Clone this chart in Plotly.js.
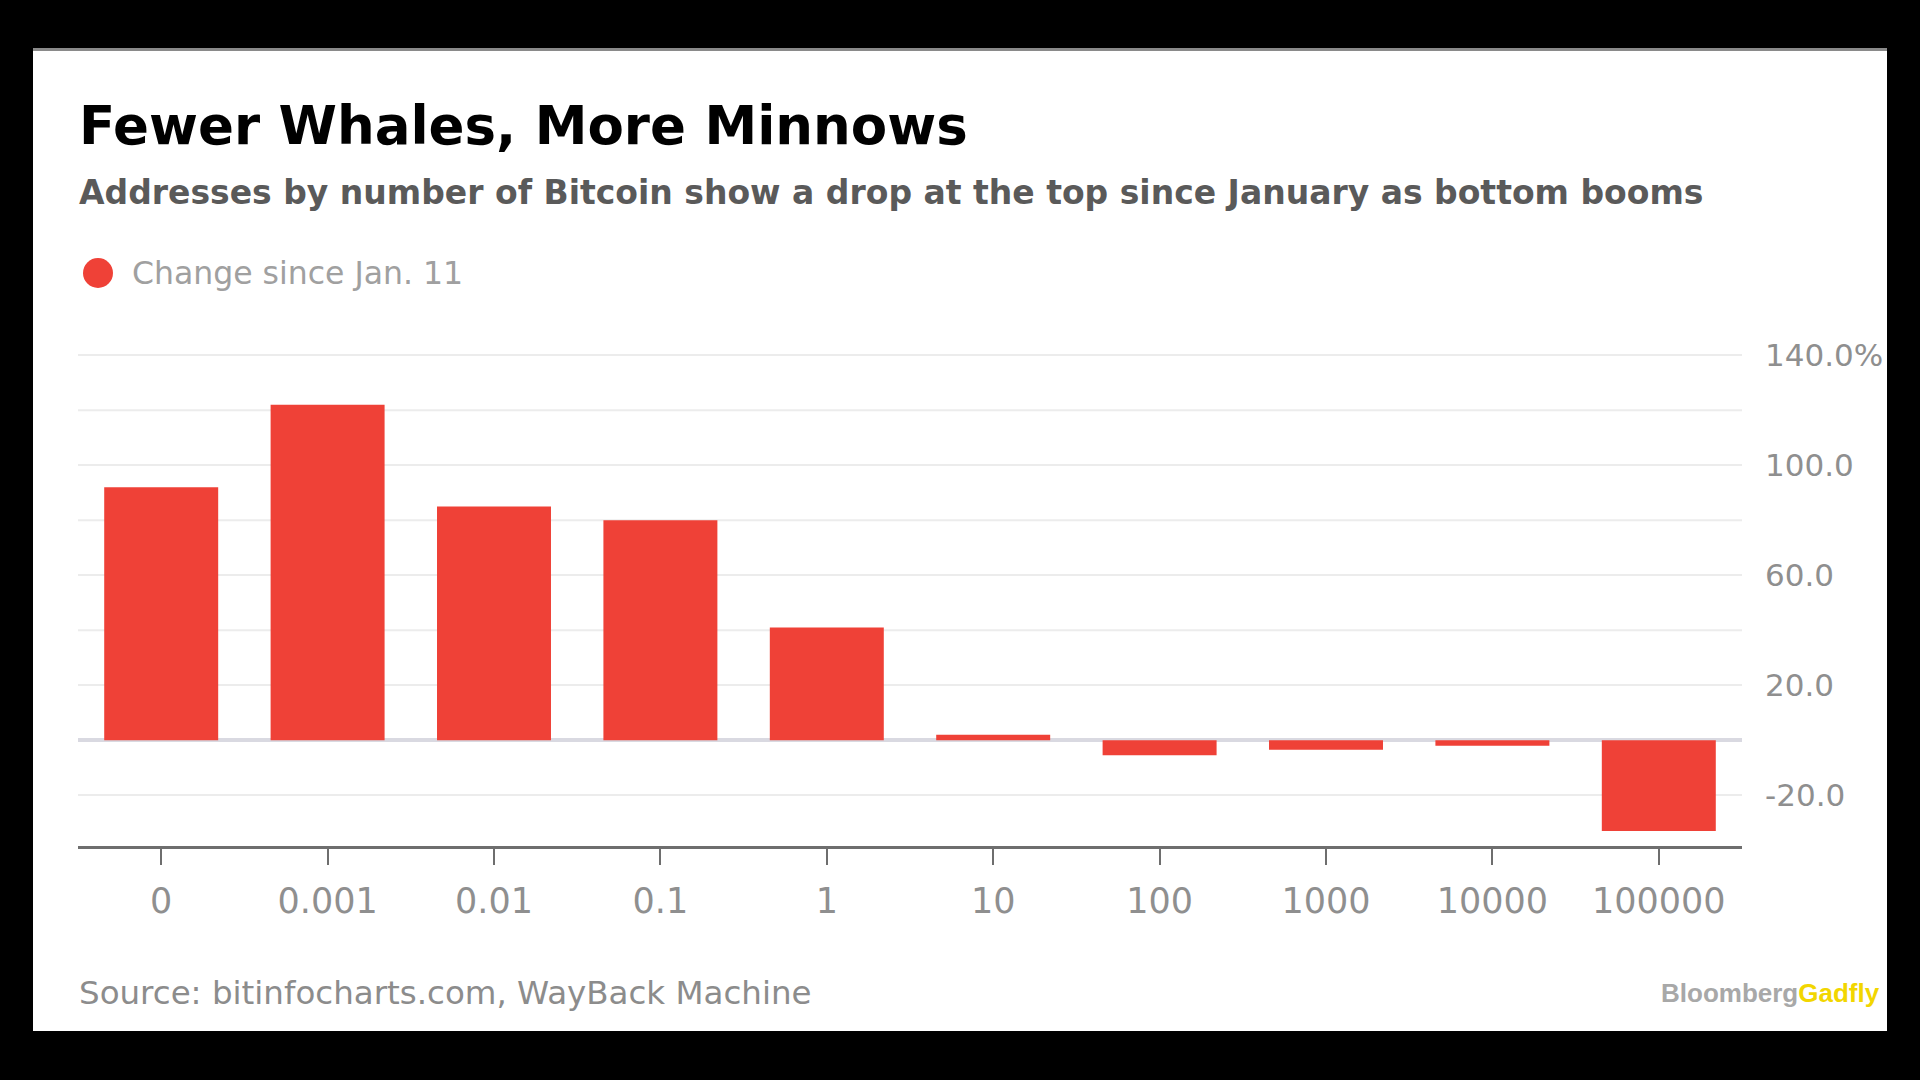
<!DOCTYPE html>
<html>
<head>
<meta charset="utf-8">
<script src="https://cdn.plot.ly/plotly-3.0.1.min.js"></script>
<style>
  html, body { margin: 0; padding: 0; background: #000; width: 1920px; height: 1080px; overflow: hidden; }
  #wrap { position: absolute; left: 33px; top: 48px; width: 1854px; border-top: 3px solid #8a8a8a; }
  #chart { width: 1854px; height: 980px; }
</style>
</head>
<body>
<div id="wrap"><div id="chart"></div></div>
<script>
// ---- data ----
const categories = ["0", "0.001", "0.01", "0.1", "1", "10", "100", "1000", "10000", "100000"];
const changeSinceJan11 = [92, 122, 85, 80, 41, 2, -5.5, -3.5, -2, -33];
const yTickValues = [140, 100, 60, 20, -20];
const yTickLabels = ["140.0%", "100.0", "60.0", "20.0", "-20.0"];
const titleText = "Fewer Whales, More Minnows";
const subtitleText = "Addresses by number of Bitcoin show a drop at the top since January as bottom booms";
const legendText = "Change since Jan. 11";
const sourceText = "Source: bitinfocharts.com, WayBack Machine";

// ---- layout geometry (pixels inside the chart div) ----
const W = 1854, H = 980;
const M = { l: 45, r: 145, t: 300, b: 185 };
const pw = W - M.l - M.r, ph = H - M.t - M.b;
const px = x => (x - M.l) / pw;          // pixel x -> paper
const py = y => (H - M.b - y) / ph;      // pixel y -> paper

const RED = "#EF4137";
const FONT = "DejaVu Sans, sans-serif";

const trace = {
  type: "bar",
  x: categories,
  y: changeSinceJan11,
  marker: { color: RED },
  hoverinfo: "x+y",
  showlegend: false
};

const layout = {
  width: W, height: H,
  margin: M,
  paper_bgcolor: "#ffffff",
  plot_bgcolor: "#ffffff",
  bargap: 0.315,
  font: { family: FONT, color: "#8f8f8f" },
  xaxis: {
    type: "category",
    range: [-0.5, 9.5],
    showgrid: false,
    showline: true, linecolor: "#6e6e6e", linewidth: 3,
    ticks: "outside", ticklen: 16, tickwidth: 2, tickcolor: "#6e6e6e",
    ticklabelstandoff: 6,
    tickfont: { size: 35, color: "#8f8f8f", family: FONT },
    zeroline: false, fixedrange: true
  },
  yaxis: {
    side: "right",
    range: [-38.5, 141.5],
    tickvals: yTickValues,
    ticktext: yTickLabels,
    showgrid: true, gridcolor: "#ececec", gridwidth: 2,
    zeroline: true, zerolinecolor: "#d9d9e1", zerolinewidth: 4,
    ticks: "", ticklabelstandoff: 22,
    tickfont: { size: 31, color: "#8f8f8f", family: FONT },
    showline: false, fixedrange: true
  },
  shapes: [
    // extra gridlines every 20 (labels only every 40)
    ...[120, 80, 40].map(v => ({ type: "line", xref: "paper", yref: "y", x0: 0, x1: 1, y0: v, y1: v,
      line: { color: "#ececec", width: 2 }, layer: "below" })),
    // legend dot
    { type: "circle", xref: "paper", yref: "paper",
      x0: px(50), x1: px(80), y0: py(237), y1: py(207),
      fillcolor: RED, line: { width: 0 } }
  ],
  annotations: [
    { text: "<b>" + titleText + "</b>", xref: "paper", yref: "paper", x: px(44), y: py(75),
      xanchor: "left", yanchor: "middle", showarrow: false,
      font: { family: FONT, size: 53, color: "#000000" } },
    { text: "<b>" + subtitleText + "</b>", xref: "paper", yref: "paper", x: px(44), y: py(142),
      xanchor: "left", yanchor: "middle", showarrow: false,
      font: { family: FONT, size: 33, color: "#5a5a5a" } },
    { text: legendText, xref: "paper", yref: "paper", x: px(97), y: py(222),
      xanchor: "left", yanchor: "middle", showarrow: false,
      font: { family: FONT, size: 31.5, color: "#a0a0a0" } },
    { text: sourceText, xref: "paper", yref: "paper", x: px(44), y: py(942),
      xanchor: "left", yanchor: "middle", showarrow: false,
      font: { family: FONT, size: 32.5, color: "#8c8c8c" } },
    { text: "<b>Bloomberg</b><b><span style='color:#F2D600'>Gadfly</span></b>", xref: "paper", yref: "paper",
      x: px(1849), y: py(942), xanchor: "right", yanchor: "middle", showarrow: false,
      font: { family: "Liberation Sans Narrow, Liberation Sans, Arial, sans-serif", size: 26, color: "#a8a8a8" } }
  ]
};

Plotly.newPlot("chart", [trace], layout, { displayModeBar: false, staticPlot: true });
</script>
</body>
</html>
